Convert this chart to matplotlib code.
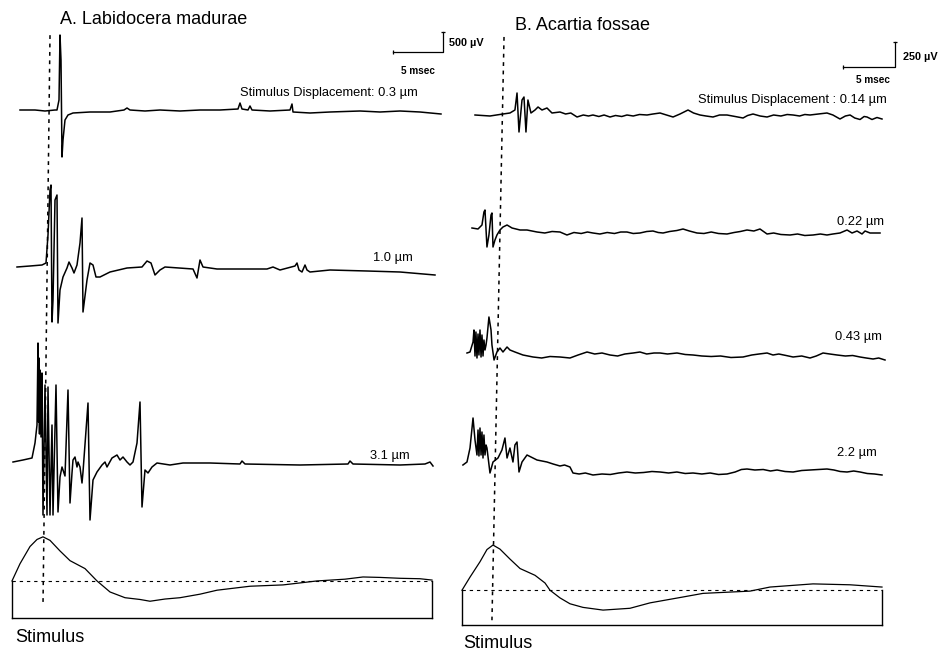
import matplotlib.pyplot as plt
import numpy as np

plt.rcParams['font.family'] = ['Liberation Sans', 'DejaVu Sans']

# ---------------- A. Labidocera madurae ----------------
# time in msec from stimulus onset, response in microvolts
a1_t = [-2.7, -1.2, -0.2, 0.8, 1.0, 1.2, 1.3, 1.4, 1.5, 1.6, 1.8, 2.1, 2.6, 4.3, 6.3, 7.7, 8.0, 8.3, 9.8, 11.3,
        13.3, 15.3, 17.3, 19.1, 19.3, 19.5, 20.1, 20.3, 20.5, 22.3, 24.3, 24.5, 24.6, 26.3, 28.3, 31.3, 33.3, 35.3,
        37.3, 39.4]
a1_v = [25, 25, 0, 25, 25, 275, 1900, 1275, -1150, -725, -225, -100, -50, -25, -25, 25, 75, 25, 0, 25,
        0, 25, 25, 50, 200, 50, 25, 125, 25, 0, 25, 175, -25, -50, -25, 0, -25, 0, -25, -75]

a2_t = [-3.0, -1.7, -0.5, -0.1, 0.1, 0.3, 0.4, 0.5, 0.6, 0.8, 1.0, 1.1, 1.3, 1.6, 2.0, 2.2, 2.5, 2.7, 3.0, 3.3,
        3.5, 3.6, 4.0, 4.3, 4.6, 4.9, 5.3, 6.3, 8.0, 9.5, 10.0, 10.4, 10.8, 11.3, 11.8, 14.6, 15.0, 15.3, 15.6,
        17.0, 22.0, 22.6, 23.3, 24.8, 25.0, 25.2, 25.5, 25.8, 26.0, 26.3, 28.3, 32.0, 35.3, 38.8]
a2_v = [0, 25, 50, 100, 800, 1925, 2050, -1375, -825, 1675, 1800, -1400, -575, -250, -25, 125, -25, -150, 50, 600,
        1225, -1125, -325, 100, 50, -250, -250, -125, -25, 0, 150, 100, -200, -75, 0, -50, -275, 175, 0,
        -50, -50, 0, -75, 25, 100, -75, -125, 50, -75, -125, -75, -100, -125, -200]

a3_t = [-3.4, -2.4, -1.5, -1.2, -1.0, -0.9, -0.85, -0.8, -0.75, -0.7, -0.6, -0.5, -0.4, -0.2, 0.0, 0.1, 0.3, 0.5,
        0.6, 0.9, 1.1, 1.3, 1.5, 1.6, 1.8, 2.1, 2.3, 2.5, 2.6, 2.8, 3.0, 3.1, 3.3, 3.5, 3.6, 4.1, 4.3, 4.6, 5.0,
        5.5, 5.8, 6.0, 6.5, 7.0, 7.3, 7.6, 8.0, 8.3, 8.6, 9.0, 9.3, 9.5, 9.8, 10.1, 10.5, 11.0, 12.3, 13.6, 16.3,
        19.3, 19.5, 19.8, 25.3, 30.1, 30.3, 30.6, 35.3, 37.8, 38.3, 38.6]
a3_v = [0, 50, 100, 475, 925, 2975, 1000, 2600, 700, 2300, 625, 2225, -1325, 1925, -1325, 1875, -1325, 925,
        -1325, 1925, -1250, -375, -125, -200, -350, 1800, -1025, -275, 50, 125, -125, 0, -125, -525, -250, 1475,
        -1450, -450, -250, -75, 0, -125, 100, 175, 50, 125, 0, -75, 0, 475, 1500, -1125, -200, -275, -125, -25,
        -75, -25, -25, -50, 25, -50, -75, -50, 25, -50, -75, -50, 0, -100]

# stimulus displacement, relative to its peak
sa_t = [-3.5, -2.7, -1.7, -1.0, -0.4, 0.3, 1.3, 2.3, 3.8, 5.0, 6.3, 7.8, 9.3, 10.3, 11.8, 13.3, 15.3, 17.0,
        20.3, 23.6, 27.0, 29.8, 31.6, 33.3, 35.3, 37.3, 38.5]
sa_d = [0, 0.39, 0.78, 0.94, 1.0, 0.92, 0.68, 0.46, 0.28, 0.0, -0.25, -0.38, -0.42, -0.46, -0.41, -0.38, -0.30,
        -0.21, -0.12, -0.09, 0.0, 0.04, 0.09, 0.08, 0.06, 0.05, 0.02]
a_labels = ['Stimulus Displacement: 0.3 \u00b5m', '1.0 \u00b5m', '3.1 \u00b5m']

# ---------------- B. Acartia fossae ----------------
b1_t = [-2.21, -0.77, 0.48, 1.15, 1.63, 1.83, 2.02, 2.31, 2.50, 2.69, 2.88, 3.17, 3.56, 3.85, 4.23, 4.71, 5.19,
        5.96, 6.5, 7.0, 7.6, 8.2, 8.7, 9.13, 9.7, 10.2, 10.77, 11.3, 11.9, 12.40, 13.0, 13.6, 14.33, 14.9, 15.58,
        16.2, 16.83, 17.5, 18.27, 18.8, 19.42, 20.0, 20.67, 21.3, 22.02, 22.8, 23.56, 24.0, 24.52, 25.2, 25.87,
        26.5, 27.2, 27.8, 28.37, 29.0, 29.5, 30.0, 30.8, 31.63, 32.2, 32.88, 33.4, 33.85, 34.3, 34.81, 35.2,
        35.48, 35.96, 36.44, 36.92]
b1_v = [0, -10, 10, 20, 50, 220, -170, 150, 180, -170, 150, 20, 50, 80, 50, 70, 20,
        30, 10, 20, -20, 0, -10, 0, -15, 0, -20, -5, -15, 0, -10, 5, 0, 10, 20,
        0, -20, 10, 50, 20, 0, -10, -20, 0, 0, -15, -30, -5, 10, -10, -20,
        0, -10, 5, 0, -10, 5, 0, 10, 20, 0, -40, -10, 0, -30, -45, -15,
        -20, -45, -25, -40]

b2_t = [-2.50, -1.92, -1.54, -1.35, -1.25, -1.06, -0.87, -0.67, -0.58, -0.48, -0.29, -0.10, 0.19, 0.48, 0.87,
        1.35, 2.12, 2.79, 3.75, 4.5, 5.2, 5.96, 6.63, 7.3, 8.0, 8.6, 9.13, 9.8, 10.5, 11.2, 11.8, 12.40, 13.0,
        13.65, 14.3, 14.90, 15.4, 15.87, 16.5, 17.2, 17.79, 18.4, 19.13, 19.8, 20.5, 21.2, 22.02, 22.7, 23.3,
        23.94, 24.6, 25.19, 25.87, 26.5, 27.2, 28.08, 28.8, 29.5, 30.29, 31.0, 31.63, 32.2, 32.88, 33.56, 34.04,
        34.52, 35.00, 35.29, 35.77, 36.73]
b2_v = [30, 20, 60, 190, 210, -160, -40, 160, 180, -160, -90, -40, 10, 40, 60,
        30, 10, 10, -10, -20, -5, -10, -40, -15, -25, -10, -20, -30, -15, -25, -10, -10, -25,
        -20, -5, 0, -15, -20, -5, 5, 20, 0, -20, -25, -10, -25, -30, -15, -5,
        10, 0, 20, -30, -20, -35, -40, -30, -45, -40, -30, -40, -30, -20, 10, -20,
        0, -30, 0, -20, -20]

b3_t = [-2.98, -2.69, -2.40, -2.31, -2.21, -2.12, -2.02, -1.92, -1.83, -1.73, -1.63, -1.54, -1.44, -1.35, -1.25,
        -1.15, -1.06, -0.87, -0.67, -0.58, -0.38, -0.10, 0.19, 0.48, 0.87, 1.15, 1.63, 2.40, 3.37, 4.2, 5.0, 5.96,
        6.92, 7.7, 8.56, 9.3, 10.0, 10.77, 11.5, 12.2, 13.0, 13.65, 14.3, 15.0, 15.58, 16.3, 17.21, 18.0, 18.75,
        19.6, 20.5, 21.4, 22.4, 23.56, 24.4, 25.1, 25.87, 26.44, 27.0, 27.7, 28.37, 29.2, 30.0, 30.6, 31.25, 31.9,
        32.60, 33.4, 34.1, 34.81, 35.4, 36.06, 36.6, 37.21]
b3_v = [20, 30, 130, 250, -10, 230, -30, 210, 0, 250, -20, 200, -10, 150, 50,
        100, 170, 380, 250, 100, -50, 30, 70, 30, 80, 50, 30, 0, -20, -30, -15, -20,
        -30, 0, 30, 10, 20, 0, -10, 10, 20, 30, 10, 20, 20, 10, 20, 5, 0,
        -10, -15, -10, -25, -20, 0, 10, 20, 0, 10, -5, -20, -10, -30, -10, 20, 10,
        0, -10, -5, -20, -30, -40, -30, -50]

b4_t = [-3.37, -2.98, -2.69, -2.40, -2.21, -2.02, -1.92, -1.83, -1.73, -1.63, -1.54, -1.44, -1.35, -1.25, -1.15,
        -1.06, -0.77, -0.48, 0.00, 0.38, 0.67, 0.87, 1.15, 1.44, 1.63, 1.83, 2.02, 2.31, 2.79, 3.75, 4.71, 5.3,
        5.96, 6.4, 6.92, 7.21, 7.8, 8.4, 9.13, 10.0, 10.8, 11.6, 12.40, 13.2, 14.0, 14.8, 15.58, 16.4, 17.2, 18.0,
        18.75, 19.6, 20.4, 21.2, 22.02, 22.8, 23.4, 23.94, 24.7, 25.5, 26.2, 26.83, 27.6, 28.37, 29.2, 30.0, 30.8,
        31.63, 32.3, 32.9, 33.56, 34.2, 34.81, 35.5, 36.2, 36.92]
b4_v = [50, 80, 220, 520, 300, 150, 400, 140, 420, 150, 380, 120, 350, 150, 250,
        220, -30, 80, 120, 200, 320, 120, 220, 80, 250, 280, -20, 80, 150, 100, 80, 60,
        40, 50, 30, -30, -40, -30, -50, -40, -45, -30, -20, -30, -25, -15, -20, -30, -20, -35,
        -30, -40, -30, -45, -40, -20, 5, 10, 0, 5, -10, 0, -15, -20, -5, 0, 5,
        10, 0, -15, -20, -10, -20, -35, -40, -50]

sb_t = [-3.46, -2.69, -1.73, -1.06, -0.48, 0.19, 1.15, 2.12, 3.56, 4.52, 5.0, 5.96, 6.92, 8.17, 10.10, 12.69,
        14.62, 17.79, 19.71, 24.23, 26.15, 30.29, 33.85, 36.92]
sb_d = [0, 0.29, 0.63, 0.90, 1.0, 0.91, 0.69, 0.48, 0.33, 0.16, 0.0, -0.17, -0.30, -0.38, -0.44, -0.40,
        -0.28, -0.15, -0.07, -0.02, 0.07, 0.14, 0.12, 0.07]
b_labels = ['Stimulus Displacement : 0.14 \u00b5m', '0.22 \u00b5m', '0.43 \u00b5m', '2.2 \u00b5m']


W, H = 953, 653
fig = plt.figure(figsize=(W / 100, H / 100), dpi=100)


def box(x0, y0, x1, y1):
    # pixel box (top-left origin) -> figure fraction
    return [x0 / W, 1 - y1 / H, (x1 - x0) / W, (y1 - y0) / H]


def draw_panel(rec_box, stim_box, xlim, rec_ylim, stim_ylim, traces, offsets,
               labels, label_pos, stim_t, stim_d, marker_t, marker_y, bar, bar_text, bar_pos):
    ax = fig.add_axes(rec_box)
    ax.set_xlim(xlim)
    ax.set_ylim(rec_ylim)
    ax.axis('off')
    for (t, v), off in zip(traces, offsets):
        ax.plot(t, np.array(v) + off, color='k', lw=1.1, clip_on=False,
                solid_joinstyle='round')
    for s, (tx, ty) in zip(labels, label_pos):
        ax.text(tx, ty, s, fontsize=9.3, ha='left', va='center')

    # scale bar: 5 msec across, bar[2] microvolts up
    t0, v0, dv = bar
    ax.plot([t0, t0 + 5, t0 + 5], [v0, v0, v0 + dv], color='k', lw=0.9, clip_on=False)
    ax.plot([t0], [v0], 'k|', ms=2.5, mew=0.9, clip_on=False)
    ax.plot([t0 + 5], [v0 + dv], 'k_', ms=3, mew=0.9, clip_on=False)
    ax.text(bar_pos[0][0], bar_pos[0][1], bar_text, fontsize=7.8, fontweight='bold',
            ha='left', va='center')
    ax.text(bar_pos[1][0], bar_pos[1][1], '5 msec', fontsize=7.2, fontweight='bold',
            ha='center', va='center')

    # stimulus onset marker
    ax.plot(marker_t, marker_y, color='k', lw=1.1, ls=(0, (2.5, 3)),
            transform=ax.get_xaxis_transform(), clip_on=False)

    # stimulus trace
    sx = fig.add_axes(stim_box)
    sx.patch.set_visible(False)
    sx.set_xlim(xlim)
    sx.set_ylim(stim_ylim)
    sx.set_xticks([])
    sx.set_yticks([])
    sx.spines['top'].set_visible(False)
    for side in ['left', 'right']:
        sx.spines[side].set_bounds(stim_ylim[0], 0)
    for side in ['left', 'right', 'bottom']:
        sx.spines[side].set_linewidth(1.0)
    sx.axhline(0, color='k', lw=0.8, ls=(0, (3, 3.5)))
    sx.plot(stim_t, stim_d, color='k', lw=0.9, clip_on=False)
    return ax


draw_panel(box(12, 28, 432, 625), box(12, 528, 432, 618), (-3.5, 38.5), (-12850, 2075), (-0.84, 1.2),
           [(a1_t, a1_v), (a2_t, a2_v), (a3_t, a3_v)], [0, -3900, -8775],
           a_labels, [(19.3, 450), (32.6, -3675), (32.3, -8625)],
           sa_t, sa_d, [0.3, -0.4], [0.988, 0.034], (34.6, 1475, 500), '500 \u00b5V',
           [(40.2, 1700), (37.1, 1000)])

draw_panel(box(462, 28, 882, 625), box(462, 536, 882, 625), (-3.46, 36.92), (-5100, 870), (-0.77, 1.2),
           [(b1_t, b1_v), (b2_t, b2_v), (b3_t, b3_v), (b4_t, b4_v)], [0, -1160, -2400, -3550],
           b_labels, [(19.2, 150), (32.6, -1070), (32.4, -2220), (32.6, -3380)],
           sb_t, sb_d, [0.58, -0.58], [0.985, 0.008], (33.17, 480, 250), '250 \u00b5V',
           [(38.9, 580), (36.06, 350)])

fig.text(60 / W, 1 - 20 / H, 'A. Labidocera madurae', fontsize=13, ha='left', va='center')
fig.text(515 / W, 1 - 25 / H, 'B. Acartia fossae', fontsize=13, ha='left', va='center')
fig.text(15 / W, 1 - 637 / H, 'Stimulus', fontsize=13, ha='left', va='center')
fig.text(463 / W, 1 - 643 / H, 'Stimulus', fontsize=13, ha='left', va='center')

fig.savefig('out.png', dpi=100)
